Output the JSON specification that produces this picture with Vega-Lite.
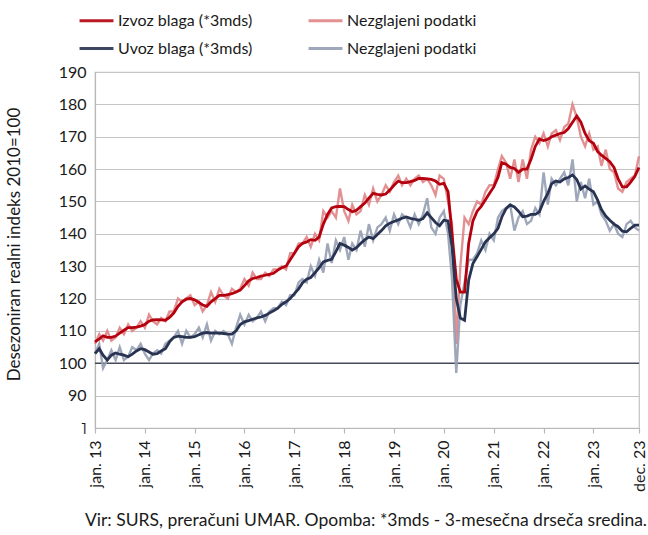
{
  "$schema": "https://vega.github.io/schema/vega-lite/v6.json",
  "width": 544,
  "height": 356,
  "autosize": "none",
  "padding": {"left": 95, "top": 72, "right": 9, "bottom": 107},
  "background": "white",
  "config": {
    "font": "Lato",
    "view": {"stroke": "#c4c4c4", "strokeWidth": 1.2},
    "axis": {"labelFont": "Lato", "titleFont": "Lato", "labelColor": "#1a1a1a", "titleColor": "#1a1a1a"},
    "axisY": {
      "values": [80, 90, 100, 110, 120, 130, 140, 150, 160, 170, 180, 190],
      "labelExpr": "datum.value == 80 ? '˥' : datum.label",
      "labelFontSize": 16,
      "labelPadding": 9,
      "labelOverlap": false,
      "labelBound": false,
      "labelFlush": false,
      "ticks": false,
      "domainColor": "#b8b8b8",
      "domainWidth": 1.2,
      "gridColor": "#c4c4c4",
      "gridWidth": 1.2,
      "titleFontSize": 17,
      "titleFontWeight": "normal",
      "titleX": -72,
      "titleY": 172,
      "titleAngle": -90
    }
  },
  "title": {
    "text": "Vir: SURS, preračuni UMAR. Opomba: *3mds - 3-mesečna drseča sredina.",
    "orient": "bottom",
    "anchor": "end",
    "fontSize": 17.5,
    "fontWeight": "normal",
    "font": "Lato",
    "color": "#1a1a1a",
    "offset": 21
  },
  "datasets": {
    "monthly": [
      {"d":"2013-01-01","Izvoz":106.6,"IzvozN":106,"Uvoz":103,"UvozN":103},
      {"d":"2013-02-01","Izvoz":107.5,"IzvozN":109,"Uvoz":104.5,"UvozN":106},
      {"d":"2013-03-01","Izvoz":108.5,"IzvozN":107,"Uvoz":102.5,"UvozN":98.5},
      {"d":"2013-04-01","Izvoz":108,"IzvozN":110,"Uvoz":101,"UvozN":101},
      {"d":"2013-05-01","Izvoz":108,"IzvozN":107,"Uvoz":102.5,"UvozN":104},
      {"d":"2013-06-01","Izvoz":108.4,"IzvozN":108,"Uvoz":103.2,"UvozN":101},
      {"d":"2013-07-01","Izvoz":109.3,"IzvozN":111,"Uvoz":102.8,"UvozN":105},
      {"d":"2013-08-01","Izvoz":110.2,"IzvozN":109,"Uvoz":102.5,"UvozN":101},
      {"d":"2013-09-01","Izvoz":111,"IzvozN":112,"Uvoz":102,"UvozN":102},
      {"d":"2013-10-01","Izvoz":111,"IzvozN":110,"Uvoz":102.8,"UvozN":105},
      {"d":"2013-11-01","Izvoz":111.2,"IzvozN":111,"Uvoz":103.8,"UvozN":104},
      {"d":"2013-12-01","Izvoz":111.5,"IzvozN":113,"Uvoz":104.5,"UvozN":106},
      {"d":"2014-01-01","Izvoz":112,"IzvozN":111,"Uvoz":104.2,"UvozN":103},
      {"d":"2014-02-01","Izvoz":113,"IzvozN":115,"Uvoz":103.5,"UvozN":101},
      {"d":"2014-03-01","Izvoz":113.4,"IzvozN":113,"Uvoz":102.8,"UvozN":103},
      {"d":"2014-04-01","Izvoz":113.5,"IzvozN":112,"Uvoz":103,"UvozN":104},
      {"d":"2014-05-01","Izvoz":113.4,"IzvozN":114,"Uvoz":103.8,"UvozN":103},
      {"d":"2014-06-01","Izvoz":113.3,"IzvozN":113,"Uvoz":104.5,"UvozN":106},
      {"d":"2014-07-01","Izvoz":114.2,"IzvozN":116,"Uvoz":106.6,"UvozN":107},
      {"d":"2014-08-01","Izvoz":115.5,"IzvozN":116,"Uvoz":108,"UvozN":108},
      {"d":"2014-09-01","Izvoz":117.6,"IzvozN":120,"Uvoz":108.4,"UvozN":110},
      {"d":"2014-10-01","Izvoz":119,"IzvozN":119,"Uvoz":108.2,"UvozN":106},
      {"d":"2014-11-01","Izvoz":119.8,"IzvozN":120,"Uvoz":108,"UvozN":110},
      {"d":"2014-12-01","Izvoz":120,"IzvozN":121,"Uvoz":108,"UvozN":108},
      {"d":"2015-01-01","Izvoz":119.6,"IzvozN":118,"Uvoz":108.2,"UvozN":109},
      {"d":"2015-02-01","Izvoz":118.8,"IzvozN":119,"Uvoz":108.8,"UvozN":111},
      {"d":"2015-03-01","Izvoz":118,"IzvozN":116,"Uvoz":109.3,"UvozN":108},
      {"d":"2015-04-01","Izvoz":117.6,"IzvozN":118,"Uvoz":109.5,"UvozN":112},
      {"d":"2015-05-01","Izvoz":119,"IzvozN":122,"Uvoz":109.3,"UvozN":107},
      {"d":"2015-06-01","Izvoz":120,"IzvozN":119,"Uvoz":109.4,"UvozN":110},
      {"d":"2015-07-01","Izvoz":121,"IzvozN":123,"Uvoz":109.3,"UvozN":109},
      {"d":"2015-08-01","Izvoz":121,"IzvozN":121,"Uvoz":109.2,"UvozN":110},
      {"d":"2015-09-01","Izvoz":121.2,"IzvozN":120,"Uvoz":109,"UvozN":109},
      {"d":"2015-10-01","Izvoz":121.5,"IzvozN":123,"Uvoz":109,"UvozN":106},
      {"d":"2015-11-01","Izvoz":122,"IzvozN":122,"Uvoz":110,"UvozN":111},
      {"d":"2015-12-01","Izvoz":122.6,"IzvozN":123,"Uvoz":112,"UvozN":115},
      {"d":"2016-01-01","Izvoz":124,"IzvozN":126,"Uvoz":112.8,"UvozN":112},
      {"d":"2016-02-01","Izvoz":125.5,"IzvozN":124,"Uvoz":113.2,"UvozN":115},
      {"d":"2016-03-01","Izvoz":126.2,"IzvozN":128,"Uvoz":113.6,"UvozN":113},
      {"d":"2016-04-01","Izvoz":126.5,"IzvozN":126,"Uvoz":114,"UvozN":114},
      {"d":"2016-05-01","Izvoz":126.9,"IzvozN":126,"Uvoz":114.3,"UvozN":116},
      {"d":"2016-06-01","Izvoz":127.2,"IzvozN":128,"Uvoz":114.8,"UvozN":113},
      {"d":"2016-07-01","Izvoz":127.5,"IzvozN":127,"Uvoz":115.5,"UvozN":116},
      {"d":"2016-08-01","Izvoz":127.8,"IzvozN":129,"Uvoz":116.2,"UvozN":117},
      {"d":"2016-09-01","Izvoz":128.8,"IzvozN":129,"Uvoz":117,"UvozN":117},
      {"d":"2016-10-01","Izvoz":129.5,"IzvozN":130,"Uvoz":118.2,"UvozN":119},
      {"d":"2016-11-01","Izvoz":130,"IzvozN":129,"Uvoz":119,"UvozN":118},
      {"d":"2016-12-01","Izvoz":132,"IzvozN":134,"Uvoz":120,"UvozN":121},
      {"d":"2017-01-01","Izvoz":134,"IzvozN":134,"Uvoz":121.5,"UvozN":121},
      {"d":"2017-02-01","Izvoz":136,"IzvozN":137,"Uvoz":123,"UvozN":125},
      {"d":"2017-03-01","Izvoz":137,"IzvozN":137,"Uvoz":124.8,"UvozN":126},
      {"d":"2017-04-01","Izvoz":137.5,"IzvozN":139,"Uvoz":126,"UvozN":125},
      {"d":"2017-05-01","Izvoz":138.2,"IzvozN":136,"Uvoz":126.5,"UvozN":130},
      {"d":"2017-06-01","Izvoz":138,"IzvozN":140,"Uvoz":128,"UvozN":127},
      {"d":"2017-07-01","Izvoz":139,"IzvozN":138,"Uvoz":129.5,"UvozN":132},
      {"d":"2017-08-01","Izvoz":143,"IzvozN":147,"Uvoz":131.3,"UvozN":128},
      {"d":"2017-09-01","Izvoz":146,"IzvozN":145,"Uvoz":131.8,"UvozN":137},
      {"d":"2017-10-01","Izvoz":148,"IzvozN":147,"Uvoz":132.1,"UvozN":131},
      {"d":"2017-11-01","Izvoz":148.4,"IzvozN":145,"Uvoz":134.5,"UvozN":138},
      {"d":"2017-12-01","Izvoz":148.5,"IzvozN":154,"Uvoz":137,"UvozN":135},
      {"d":"2018-01-01","Izvoz":148.4,"IzvozN":147,"Uvoz":136.5,"UvozN":139},
      {"d":"2018-02-01","Izvoz":147.5,"IzvozN":144,"Uvoz":135.8,"UvozN":132},
      {"d":"2018-03-01","Izvoz":146.8,"IzvozN":149,"Uvoz":135,"UvozN":137},
      {"d":"2018-04-01","Izvoz":147.3,"IzvozN":146,"Uvoz":135.7,"UvozN":135},
      {"d":"2018-05-01","Izvoz":148.4,"IzvozN":147,"Uvoz":137,"UvozN":141},
      {"d":"2018-06-01","Izvoz":149.5,"IzvozN":152,"Uvoz":138.2,"UvozN":136},
      {"d":"2018-07-01","Izvoz":151,"IzvozN":149,"Uvoz":139,"UvozN":143},
      {"d":"2018-08-01","Izvoz":152.5,"IzvozN":154,"Uvoz":138.5,"UvozN":138},
      {"d":"2018-09-01","Izvoz":152.2,"IzvozN":150,"Uvoz":139.8,"UvozN":142},
      {"d":"2018-10-01","Izvoz":152,"IzvozN":152,"Uvoz":141,"UvozN":143},
      {"d":"2018-11-01","Izvoz":152.3,"IzvozN":155,"Uvoz":142.5,"UvozN":145},
      {"d":"2018-12-01","Izvoz":153.5,"IzvozN":153,"Uvoz":143.3,"UvozN":141},
      {"d":"2019-01-01","Izvoz":155,"IzvozN":156,"Uvoz":143.8,"UvozN":146},
      {"d":"2019-02-01","Izvoz":156.3,"IzvozN":158,"Uvoz":144.3,"UvozN":143},
      {"d":"2019-03-01","Izvoz":155.8,"IzvozN":155,"Uvoz":144.8,"UvozN":146},
      {"d":"2019-04-01","Izvoz":155.8,"IzvozN":157,"Uvoz":145.2,"UvozN":145},
      {"d":"2019-05-01","Izvoz":156.1,"IzvozN":155,"Uvoz":144.8,"UvozN":142},
      {"d":"2019-06-01","Izvoz":156.5,"IzvozN":157,"Uvoz":144.5,"UvozN":146},
      {"d":"2019-07-01","Izvoz":157.1,"IzvozN":158,"Uvoz":144.2,"UvozN":143},
      {"d":"2019-08-01","Izvoz":157.1,"IzvozN":156,"Uvoz":144.7,"UvozN":146},
      {"d":"2019-09-01","Izvoz":157,"IzvozN":157,"Uvoz":146.5,"UvozN":151},
      {"d":"2019-10-01","Izvoz":156.8,"IzvozN":155,"Uvoz":145,"UvozN":142},
      {"d":"2019-11-01","Izvoz":156.3,"IzvozN":152,"Uvoz":143.5,"UvozN":140},
      {"d":"2019-12-01","Izvoz":155.3,"IzvozN":158,"Uvoz":142.5,"UvozN":145},
      {"d":"2020-01-01","Izvoz":155.6,"IzvozN":157,"Uvoz":144.2,"UvozN":147},
      {"d":"2020-02-01","Izvoz":153,"IzvozN":150,"Uvoz":144,"UvozN":140},
      {"d":"2020-03-01","Izvoz":140,"IzvozN":143,"Uvoz":136,"UvozN":126},
      {"d":"2020-04-01","Izvoz":126,"IzvozN":106,"Uvoz":120,"UvozN":97},
      {"d":"2020-05-01","Izvoz":122,"IzvozN":130,"Uvoz":114,"UvozN":118},
      {"d":"2020-06-01","Izvoz":122,"IzvozN":145,"Uvoz":113.3,"UvozN":125},
      {"d":"2020-07-01","Izvoz":137,"IzvozN":143,"Uvoz":125.7,"UvozN":132},
      {"d":"2020-08-01","Izvoz":144,"IzvozN":147,"Uvoz":130.8,"UvozN":132},
      {"d":"2020-09-01","Izvoz":147,"IzvozN":150,"Uvoz":133,"UvozN":134},
      {"d":"2020-10-01","Izvoz":148.5,"IzvozN":149,"Uvoz":135.2,"UvozN":138},
      {"d":"2020-11-01","Izvoz":150.5,"IzvozN":153,"Uvoz":137.5,"UvozN":135},
      {"d":"2020-12-01","Izvoz":152.5,"IzvozN":155,"Uvoz":138.8,"UvozN":140},
      {"d":"2021-01-01","Izvoz":154.5,"IzvozN":155,"Uvoz":140,"UvozN":138},
      {"d":"2021-02-01","Izvoz":157.5,"IzvozN":160,"Uvoz":141.7,"UvozN":145},
      {"d":"2021-03-01","Izvoz":162,"IzvozN":164,"Uvoz":145.2,"UvozN":147},
      {"d":"2021-04-01","Izvoz":161.5,"IzvozN":162,"Uvoz":147.8,"UvozN":148},
      {"d":"2021-05-01","Izvoz":160.5,"IzvozN":157,"Uvoz":148.9,"UvozN":149},
      {"d":"2021-06-01","Izvoz":160.2,"IzvozN":163,"Uvoz":148.3,"UvozN":141},
      {"d":"2021-07-01","Izvoz":159,"IzvozN":156,"Uvoz":147,"UvozN":145},
      {"d":"2021-08-01","Izvoz":160,"IzvozN":163,"Uvoz":145.3,"UvozN":147},
      {"d":"2021-09-01","Izvoz":160,"IzvozN":157,"Uvoz":145.5,"UvozN":143},
      {"d":"2021-10-01","Izvoz":163,"IzvozN":166,"Uvoz":146,"UvozN":144},
      {"d":"2021-11-01","Izvoz":167,"IzvozN":170,"Uvoz":146,"UvozN":148},
      {"d":"2021-12-01","Izvoz":169.3,"IzvozN":168,"Uvoz":146.8,"UvozN":146},
      {"d":"2022-01-01","Izvoz":168.8,"IzvozN":171,"Uvoz":150,"UvozN":159},
      {"d":"2022-02-01","Izvoz":169.2,"IzvozN":167,"Uvoz":152.5,"UvozN":149},
      {"d":"2022-03-01","Izvoz":170,"IzvozN":171,"Uvoz":155.5,"UvozN":157},
      {"d":"2022-04-01","Izvoz":170.5,"IzvozN":172,"Uvoz":156.3,"UvozN":155},
      {"d":"2022-05-01","Izvoz":171,"IzvozN":169,"Uvoz":156,"UvozN":157},
      {"d":"2022-06-01","Izvoz":171.3,"IzvozN":173,"Uvoz":157,"UvozN":159},
      {"d":"2022-07-01","Izvoz":172.5,"IzvozN":174,"Uvoz":157.4,"UvozN":155},
      {"d":"2022-08-01","Izvoz":174.5,"IzvozN":180,"Uvoz":158.2,"UvozN":163},
      {"d":"2022-09-01","Izvoz":176.4,"IzvozN":176,"Uvoz":156.8,"UvozN":150},
      {"d":"2022-10-01","Izvoz":174.5,"IzvozN":170,"Uvoz":153.8,"UvozN":156},
      {"d":"2022-11-01","Izvoz":171,"IzvozN":167,"Uvoz":154.8,"UvozN":151},
      {"d":"2022-12-01","Izvoz":168.8,"IzvozN":171,"Uvoz":153.8,"UvozN":157},
      {"d":"2023-01-01","Izvoz":168,"IzvozN":166,"Uvoz":153,"UvozN":149},
      {"d":"2023-02-01","Izvoz":165.4,"IzvozN":167,"Uvoz":150.4,"UvozN":150},
      {"d":"2023-03-01","Izvoz":164.3,"IzvozN":161,"Uvoz":147.5,"UvozN":146},
      {"d":"2023-04-01","Izvoz":163.3,"IzvozN":166,"Uvoz":145.5,"UvozN":144},
      {"d":"2023-05-01","Izvoz":162.3,"IzvozN":160,"Uvoz":144.2,"UvozN":141},
      {"d":"2023-06-01","Izvoz":160.5,"IzvozN":159,"Uvoz":143,"UvozN":143},
      {"d":"2023-07-01","Izvoz":157,"IzvozN":154,"Uvoz":142.2,"UvozN":140},
      {"d":"2023-08-01","Izvoz":154.5,"IzvozN":153,"Uvoz":140.8,"UvozN":139},
      {"d":"2023-09-01","Izvoz":154.5,"IzvozN":156,"Uvoz":140.6,"UvozN":143},
      {"d":"2023-10-01","Izvoz":156,"IzvozN":157,"Uvoz":141.7,"UvozN":144},
      {"d":"2023-11-01","Izvoz":157.8,"IzvozN":158,"Uvoz":142.7,"UvozN":142},
      {"d":"2023-12-01","Izvoz":160.5,"IzvozN":164,"Uvoz":142.7,"UvozN":141}
    ],
    "base": [{"v": 100}]
  },
  "data": {"name": "monthly"},
  "encoding": {
    "x": {
      "field": "d",
      "type": "temporal",
      "title": null,
      "scale": {"type": "utc", "domain": [{"year": 2013, "month": 1, "date": 1, "utc": true}, {"year": 2023, "month": 12, "date": 1, "utc": true}]},
      "axis": {
        "values": [
          {"year": 2013, "month": 1, "date": 1, "utc": true},
          {"year": 2014, "month": 1, "date": 1, "utc": true},
          {"year": 2015, "month": 1, "date": 1, "utc": true},
          {"year": 2016, "month": 1, "date": 1, "utc": true},
          {"year": 2017, "month": 1, "date": 1, "utc": true},
          {"year": 2018, "month": 1, "date": 1, "utc": true},
          {"year": 2019, "month": 1, "date": 1, "utc": true},
          {"year": 2020, "month": 1, "date": 1, "utc": true},
          {"year": 2021, "month": 1, "date": 1, "utc": true},
          {"year": 2022, "month": 1, "date": 1, "utc": true},
          {"year": 2023, "month": 1, "date": 1, "utc": true},
          {"year": 2023, "month": 12, "date": 1, "utc": true}
        ],
        "labelExpr": "(utcFormat(datum.value, '%m') == '12' ? 'dec. ' : 'jan. ') + utcFormat(datum.value, '%y')",
        "labelAngle": -90,
        "labelAlign": "right",
        "labelBaseline": "middle",
        "labelFontSize": 16,
        "labelPadding": 7,
        "labelOverlap": false,
        "labelBound": false,
        "labelFlush": false,
        "grid": false,
        "domainColor": "#b8b8b8",
        "domainWidth": 1.2,
        "tickColor": "#b8b8b8",
        "tickSize": 5,
        "tickWidth": 1.2
      }
    }
  },
  "layer": [
    {
      "mark": {"type": "rule", "color": "#444a58", "strokeWidth": 1.4},
      "data": {"name": "base"},
      "encoding": {
        "y": {"field": "v", "type": "quantitative", "title": "Desezoniran realni indeks 2010=100", "scale": {"domain": [80, 190], "nice": false, "zero": false}},
        "x": null
      }
    },
    {
      "transform": [{"fold": ["Izvoz", "IzvozN", "Uvoz", "UvozN"], "as": ["serija", "vrednost"]}, {"filter": "datum.serija == 'IzvozN' || datum.serija == 'UvozN'"}],
      "mark": {"type": "line", "strokeWidth": 2.4, "opacity": 0.9},
      "encoding": {
        "y": {"field": "vrednost", "type": "quantitative", "title": "Desezoniran realni indeks 2010=100", "scale": {"domain": [80, 190], "nice": false, "zero": false}},
        "color": {"field": "serija", "type": "nominal"}
      }
    },
    {
      "transform": [{"fold": ["Izvoz", "IzvozN", "Uvoz", "UvozN"], "as": ["serija", "vrednost"]}, {"filter": "datum.serija == 'Izvoz' || datum.serija == 'Uvoz'"}],
      "mark": {"type": "line", "strokeWidth": 2.8},
      "encoding": {
        "y": {"field": "vrednost", "type": "quantitative", "title": "Desezoniran realni indeks 2010=100", "scale": {"domain": [80, 190], "nice": false, "zero": false}},
        "color": {
          "field": "serija",
          "type": "nominal",
          "scale": {"domain": ["Izvoz", "IzvozN", "Uvoz", "UvozN"], "range": ["#b5000e", "#df8485", "#283352", "#959eb3"]},
          "legend": {
            "title": null,
            "orient": "none",
            "legendX": -17,
            "legendY": -70,
            "columns": 2,
            "direction": "horizontal",
            "symbolType": "stroke",
            "symbolSize": 1150,
            "symbolStrokeWidth": 3,
            "labelFontSize": 16,
            "labelFont": "Lato",
            "labelColor": "#1a1a1a",
            "labelOffset": 3,
            "columnPadding": 49,
            "rowPadding": 1,
            "labelExpr": "datum.label == 'Izvoz' ? 'Izvoz blaga (*3mds)' : datum.label == 'Uvoz' ? 'Uvoz blaga (*3mds)' : 'Nezglajeni podatki'"
          }
        }
      }
    }
  ]
}
